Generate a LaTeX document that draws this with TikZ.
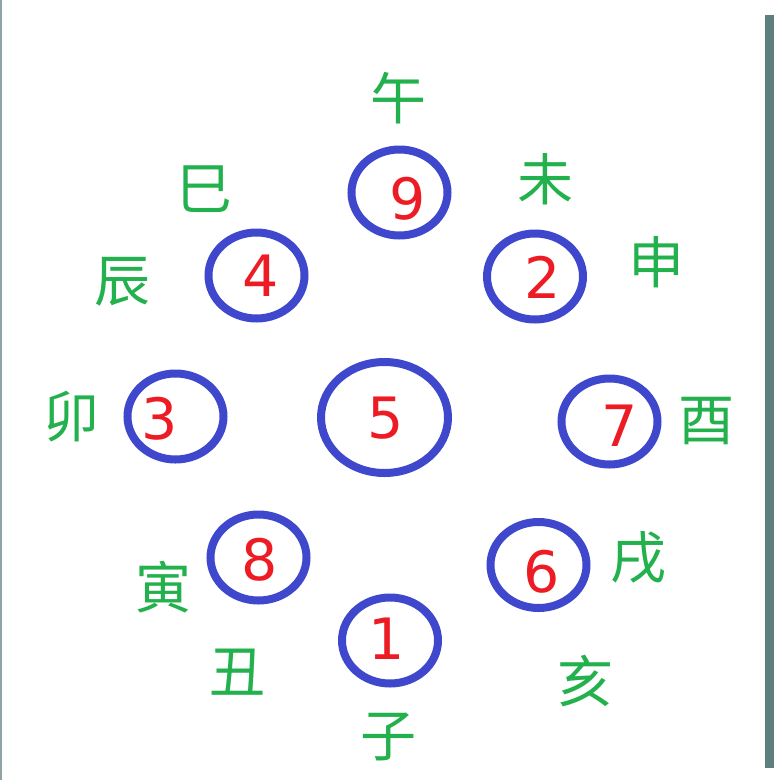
\documentclass[tikz,border=0pt]{standalone}
\usepackage{fontspec}
\setmainfont{DejaVu Sans}
\newfontfamily\cjk{Noto Sans CJK SC}
\definecolor{ringblue}{HTML}{3F48CC}
\definecolor{numred}{HTML}{ED1C24}
\definecolor{branchgreen}{HTML}{22B14C}
\definecolor{edgegray}{HTML}{5F7F7F}
\tikzset{
  ring/.style={draw=ringblue,line width=8pt},
  num/.style={text=numred,inner sep=0pt,font=\fontsize{57}{60}\selectfont},
  branch/.style={text=branchgreen,inner sep=0pt,font=\cjk\fontsize{56}{60}\selectfont}
}
\begin{document}
\begin{tikzpicture}[x=1pt,y=-1pt]
\useasboundingbox (0,0) rectangle (774,780);
\fill[white] (0,0) rectangle (774,780);
\fill[edgegray!70] (0,0) rectangle (1.5,780);
\fill[edgegray] (765,15) rectangle (774,768);
%
\coordinate (r9) at (399.5,192.5);
\coordinate (r4) at (256.5,275.5);
\coordinate (r2) at (535,276.5);
\coordinate (r3) at (175.5,416.5);
\coordinate (r5) at (384.5,417.5);
\coordinate (r7) at (609.5,421.5);
\coordinate (r8) at (258.5,557.5);
\coordinate (r6) at (538.5,565);
\coordinate (r1) at (390,640.5);
%
\foreach \Ring in {r9,r4,r2,r3,r7,r8,r6,r1}
\draw[ring] (\Ring) ellipse [x radius=48pt,y radius=43pt];
\draw[ring] (r5) ellipse [x radius=63.5pt,y radius=55.5pt];
%
\node[num] (n9) at (408,199) {9};
\node[num] (n4) at (261,276) {4};
\node[num] (n2) at (543,277) {2};
\node[num] (n3) at (160,419) {3};
\node[num] (n5) at (386,418) {5};
\node[num] (n7) at (620,426) {7};
\node[num] (n8) at (260,560) {8};
\node[num] (n6) at (542,572) {6};
\node[num] (n1) at (387,639) {1};
%
\node[branch] (wu) at (398,98) {午};
\node[branch] (wei) at (545,179) {未};
\node[branch] (shen) at (656,262) {申};
\node[branch] (you) at (706,421) {酉};
\node[branch] (xu) at (638,558) {戌};
\node[branch] (hai) at (585,681) {亥};
\node[branch] (zi) at (388,737) {子};
\node[branch] (chou) at (237,672) {丑};
\node[branch] (yin) at (163,587) {寅};
\node[branch] (mao) at (71,417) {卯};
\node[branch] (chen) at (122,282) {辰};
\node[branch] (si) at (204,189) {巳};
\end{tikzpicture}
\end{document}
